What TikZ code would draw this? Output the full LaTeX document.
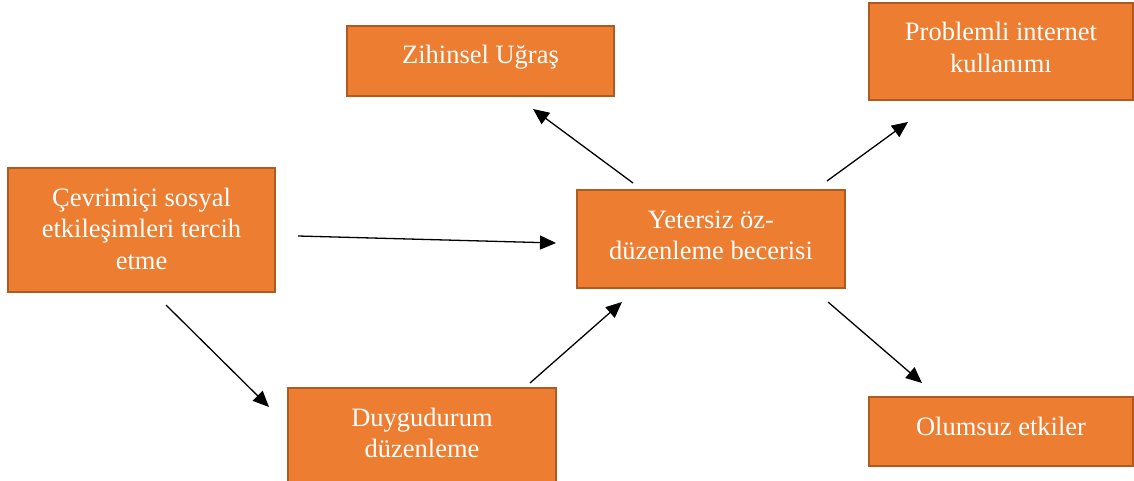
\documentclass[tikz,border=0pt]{standalone}
\usepackage{fontspec}
\setmainfont{Liberation Serif}
\usetikzlibrary{arrows.meta}
\definecolor{boxfill}{HTML}{ED7D31}
\definecolor{boxline}{HTML}{AE5A21}
% box of given width/height, text set from the top
\newcommand{\boxtext}[3]{\parbox[c][#2pt][t]{#1pt}{\centering\fontsize{26.5}{31.7}\selectfont\rule{0pt}{38pt}#3\par}}
\tikzset{
  stage/.style={draw=boxline, fill=boxfill, line width=2pt, text=white,
    inner sep=0pt, outer sep=0pt, anchor=north west},
  link/.style={line width=1.3pt, -{Triangle[length=16pt,width=14pt]}}
}
\begin{document}
\begin{tikzpicture}[x=1pt,y=1pt]
\useasboundingbox (0,0) rectangle (1134,-481);
\clip (0,0) rectangle (1134,-481);
\node[stage] (zih) at (347,-26) {\boxtext{267}{70}{Zihinsel Uğraş}};
\node[stage] (prob) at (869,-3) {\boxtext{264}{97}{Problemli internet\\kullanımı}};
\node[stage] (cev) at (8,-168) {\boxtext{267}{124}{Çevrimiçi sosyal\\etkileşimleri tercih\\etme}};
\node[stage] (yet) at (577,-190) {\boxtext{268}{98}{Yetersiz öz-\\düzenleme becerisi}};
\node[stage] (duy) at (288,-388) {\boxtext{268}{100}{Duygudurum\\düzenleme}};
\node[stage] (olm) at (869,-397) {\boxtext{264}{69}{Olumsuz etkiler}};

\draw[link] ([shift={(23,-6)}]cev.east) -- ([shift={(-21,-4)}]yet.west);
\draw[link] ([shift={(24.5,-13)}]cev.south) -- ([shift={(-19,31)}]duy.west);
\draw[link] ([shift={(108,5)}]duy.north) -- ([shift={(-89,-14)}]yet.south);
\draw[link] ([shift={(-78,7)}]yet.north) -- ([shift={(52.5,-13)}]zih.south);
\draw[link] ([shift={(-18,9)}]yet.north east) -- ([shift={(39,-22)}]prob.south west);
\draw[link] ([shift={(-17,-14)}]yet.south east) -- ([shift={(53,14)}]olm.north west);
\end{tikzpicture}
\end{document}
